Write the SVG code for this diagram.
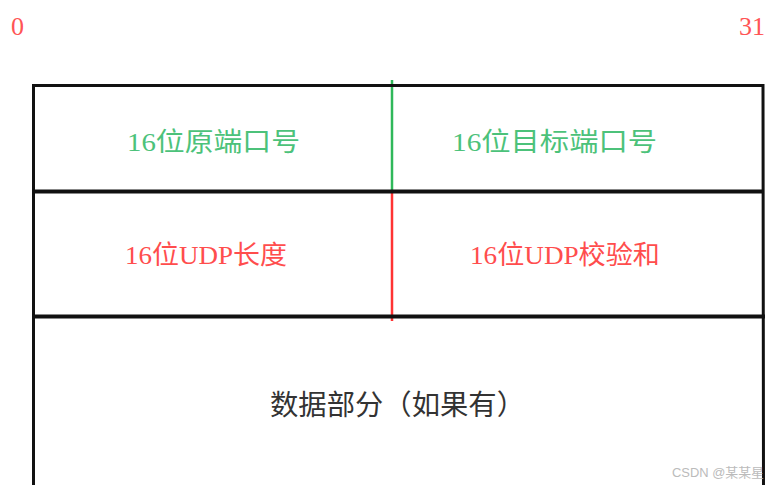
<svg xmlns="http://www.w3.org/2000/svg" width="775" height="485" viewBox="0 0 775 485">
<style>
.frame{fill:none;stroke:#111;stroke-width:3}
.div{stroke:#111;stroke-width:4}
.t{font-family:"Liberation Serif","Noto Sans CJK SC",serif;text-anchor:start}
.g{fill:#4cc27a;font-size:26px}
.r{fill:#ff4d4d;font-size:26px}
.k{fill:#333;font-size:28px}
.n{fill:#ff5555;font-size:26px;font-family:"Liberation Serif",serif}
</style>
<rect width="775" height="485" fill="#fff"/>
<g id="bit-labels">
<text class="n" x="11" y="35">0</text>
<text class="n" x="739" y="35">31</text>
</g>
<g id="connectors">
<line x1="392" y1="80" x2="392" y2="191" stroke="#2fb85a" stroke-width="2.5"/>
<line x1="392" y1="191" x2="392" y2="321" stroke="#ff3333" stroke-width="2.5"/>
</g>
<g id="frame">
<polyline class="frame" points="33.5,485 33.5,85.5 763,85.5 763.5,485"/>
<line class="div" x1="33" y1="191.5" x2="764" y2="191.5"/>
<line class="div" x1="32" y1="316.5" x2="765" y2="316.5"/>
</g>
<g id="src-port">
<text class="t g" x="127" y="151" textLength="173" lengthAdjust="spacingAndGlyphs">16位原端口号</text>
</g>
<g id="dst-port">
<text class="t g" x="452" y="151" textLength="205" lengthAdjust="spacingAndGlyphs">16位目标端口号</text>
</g>
<g id="udp-length">
<text class="t r" x="125" y="264" textLength="162" lengthAdjust="spacingAndGlyphs">16位UDP长度</text>
</g>
<g id="udp-checksum">
<text class="t r" x="470" y="264" textLength="190" lengthAdjust="spacingAndGlyphs">16位UDP校验和</text>
</g>
<g id="data">
<text class="t k" x="270" y="415" textLength="255" lengthAdjust="spacingAndGlyphs">数据部分（如果有）</text>
</g>
<text x="672" y="477" font-family="Liberation Sans,'Noto Sans CJK SC',sans-serif" font-size="13" fill="#bbb" textLength="92" lengthAdjust="spacingAndGlyphs">CSDN @某某星</text>
</svg>
